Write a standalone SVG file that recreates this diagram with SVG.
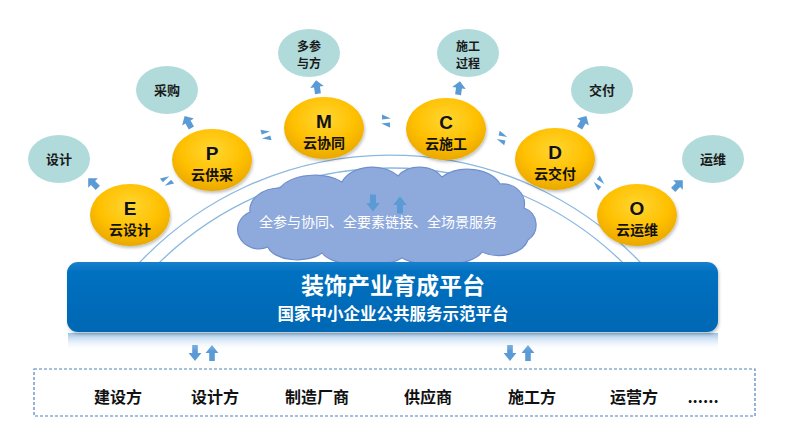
<svg xmlns="http://www.w3.org/2000/svg" width="800" height="439" viewBox="0 0 800 439">
<defs>
<style>
.bubble{fill:#b1dbdb}
.btxt{font-family:"Noto Sans CJK SC","Liberation Sans",sans-serif;font-weight:bold;font-size:13px;fill:#1a1a1a;text-anchor:middle}
.btxt2{font-family:"Noto Sans CJK SC","Liberation Sans",sans-serif;font-weight:bold;font-size:12px;fill:#1a1a1a;text-anchor:middle}
.gold{fill:url(#goldG);filter:url(#sh)}
.letter{font-family:"Liberation Sans","Noto Sans CJK SC",sans-serif;font-weight:bold;font-size:19px;fill:#111;text-anchor:middle}
.gtxt{font-family:"Noto Sans CJK SC",sans-serif;font-weight:bold;font-size:14px;fill:#111;text-anchor:middle}
.arr{fill:#5b9bd5}
.tri{fill:#5b9bd5}
.arc{fill:none;stroke:#8ab8df;stroke-width:1.3}
.party{font-family:"Noto Sans CJK SC",sans-serif;font-weight:bold;font-size:16px;fill:#111;text-anchor:middle}
</style>
<radialGradient id="goldG" cx="50%" cy="35%" r="65%">
<stop offset="0" stop-color="#ffd633"/>
<stop offset="0.6" stop-color="#ffc000"/>
<stop offset="1" stop-color="#e9a800"/>
</radialGradient>
<linearGradient id="barG" x1="0" y1="0" x2="0" y2="1">
<stop offset="0" stop-color="#1a80cc"/>
<stop offset="0.15" stop-color="#0070c0"/>
<stop offset="1" stop-color="#0068b4"/>
</linearGradient>
<linearGradient id="reflG" x1="0" y1="0" x2="0" y2="1">
<stop offset="0" stop-color="#7fb2e0" stop-opacity="0.8"/>
<stop offset="1" stop-color="#ffffff" stop-opacity="0"/>
</linearGradient>
<filter id="sh" x="-20%" y="-20%" width="140%" height="150%">
<feDropShadow dx="1" dy="2" stdDeviation="1.5" flood-color="#000" flood-opacity="0.25"/>
</filter>
<path id="upArrow" d="M0,-8 L8,0 L3.5,0 L3.5,8 L-3.5,8 L-3.5,0 L-8,0 Z"/>
<g id="harp">
<path d="M-5,-8 L6,-3 L-5,-2 Z"/>
<path d="M5,8 L-6,3 L5,2 Z"/>
</g>
</defs>
<rect width="800" height="439" fill="#ffffff"/>

<g id="arcs">
<path class="arc" d="M137.2,265 A345.6,345.6 0 0 1 642.8,265"/>
<path class="arc" d="M156.9,265 A331,331 0 0 1 625.1,265"/>
</g>

<g id="cloud">
<path d="M268,247 A20,18 0 0 1 250,212 A30,22 0 0 1 280,188 A38,22 0 0 1 342,182 A32,22 0 0 1 398,176 A26,20 0 0 1 442,177 A34,22 0 0 1 500,184 A22,20 0 0 1 524,208 A18,18 0 0 1 528,240 A30,20 0 0 1 482,252 A45,18 0 0 1 402,258 A45,18 0 0 1 322,253 A30,16 0 0 1 268,247 Z" fill="#8eaadc" stroke="#6f8fcc" stroke-width="1.2"/>
<use href="#upArrow" class="arr" transform="translate(373,203) rotate(180) scale(0.85,1.05)"/>
<use href="#upArrow" class="arr" transform="translate(400,205) scale(0.85,1.05)"/>
<text x="378" y="227" font-family="Noto Sans CJK SC,sans-serif" font-size="14" fill="#ffffff" text-anchor="middle">全参与协同、全要素链接、全场景服务</text>
</g>

<g id="connectors">
<use href="#upArrow" class="arr" transform="translate(93,183) rotate(-45) scale(0.85)"/>
<use href="#upArrow" class="arr" transform="translate(188,122) rotate(-30) scale(0.85)"/>
<use href="#upArrow" class="arr" transform="translate(317,87) rotate(-8) scale(0.85)"/>
<use href="#upArrow" class="arr" transform="translate(459,88) rotate(8) scale(0.85)"/>
<use href="#upArrow" class="arr" transform="translate(583,122) rotate(30) scale(0.85)"/>
<use href="#upArrow" class="arr" transform="translate(678,185) rotate(45) scale(0.85)"/>
<use href="#harp" class="tri" transform="translate(167,181) rotate(-38) scale(0.8)"/>
<use href="#harp" class="tri" transform="translate(266,135) rotate(-15) scale(0.8)"/>
<use href="#harp" class="tri" transform="translate(386,121) scale(0.8)"/>
<use href="#harp" class="tri" transform="translate(502,138) rotate(15) scale(0.8)"/>
<use href="#harp" class="tri" transform="translate(599,183) rotate(38) scale(0.8)"/>
<use href="#upArrow" class="arr" transform="translate(195,353) rotate(180) scale(0.8,1)"/>
<use href="#upArrow" class="arr" transform="translate(212,353) scale(0.8,1)"/>
<use href="#upArrow" class="arr" transform="translate(510,353) rotate(180) scale(0.8,1)"/>
<use href="#upArrow" class="arr" transform="translate(528,353) scale(0.8,1)"/>
</g>

<g id="b-design"><ellipse class="bubble" cx="59" cy="159" rx="31" ry="24"/><text class="btxt" x="59" y="164">设计</text></g>
<g id="b-purchase"><ellipse class="bubble" cx="167" cy="90" rx="31" ry="24"/><text class="btxt" x="167" y="95">采购</text></g>
<g id="b-parties"><ellipse class="bubble" cx="309" cy="53" rx="31" ry="24"/><text class="btxt2" x="309" y="50.5">多参</text><text class="btxt2" x="309" y="68">与方</text></g>
<g id="b-process"><ellipse class="bubble" cx="468" cy="53" rx="31" ry="24"/><text class="btxt2" x="468" y="50.5">施工</text><text class="btxt2" x="468" y="68">过程</text></g>
<g id="b-deliver"><ellipse class="bubble" cx="602" cy="90" rx="31" ry="24"/><text class="btxt" x="602" y="95">交付</text></g>
<g id="b-ops"><ellipse class="bubble" cx="713" cy="159" rx="31" ry="24"/><text class="btxt" x="713" y="164">运维</text></g>

<g id="n-E"><ellipse class="gold" cx="130" cy="215" rx="40" ry="31"/><text class="letter" x="130" y="215">E</text><text class="gtxt" x="130" y="235">云设计</text></g>
<g id="n-P"><ellipse class="gold" cx="212" cy="160" rx="40" ry="31"/><text class="letter" x="212" y="160">P</text><text class="gtxt" x="212" y="180">云供采</text></g>
<g id="n-M"><ellipse class="gold" cx="324" cy="128" rx="40" ry="31"/><text class="letter" x="324" y="128">M</text><text class="gtxt" x="324" y="148">云协同</text></g>
<g id="n-C"><ellipse class="gold" cx="446" cy="129" rx="40" ry="31"/><text class="letter" x="446" y="129">C</text><text class="gtxt" x="446" y="149">云施工</text></g>
<g id="n-D"><ellipse class="gold" cx="555" cy="159" rx="40" ry="31"/><text class="letter" x="555" y="159">D</text><text class="gtxt" x="555" y="179">云交付</text></g>
<g id="n-O"><ellipse class="gold" cx="637" cy="215" rx="40" ry="31"/><text class="letter" x="637" y="215">O</text><text class="gtxt" x="637" y="235">云运维</text></g>

<g id="platform">
<rect x="68" y="333" width="650" height="18" fill="url(#reflG)"/>
<rect x="67" y="262" width="651" height="70" rx="11" fill="url(#barG)" filter="url(#sh)"/>
<text x="393" y="294" font-family="Noto Sans CJK SC,sans-serif" font-weight="bold" font-size="23" fill="#ffffff" text-anchor="middle">装饰产业育成平台</text>
<text x="393" y="320" font-family="Noto Sans CJK SC,sans-serif" font-weight="bold" font-size="16.5" fill="#ffffff" text-anchor="middle">国家中小企业公共服务示范平台</text>
</g>

<g id="parties">
<rect x="34" y="369" width="721" height="47" fill="none" stroke="#4f81bd" stroke-width="1.2" stroke-dasharray="3,2"/>
<text class="party" x="118" y="403">建设方</text>
<text class="party" x="215" y="403">设计方</text>
<text class="party" x="317" y="403">制造厂商</text>
<text class="party" x="428" y="403">供应商</text>
<text class="party" x="532" y="403">施工方</text>
<text class="party" x="634" y="403">运营方</text>
<text class="party" x="703" y="403">......</text>
</g>
</svg>
